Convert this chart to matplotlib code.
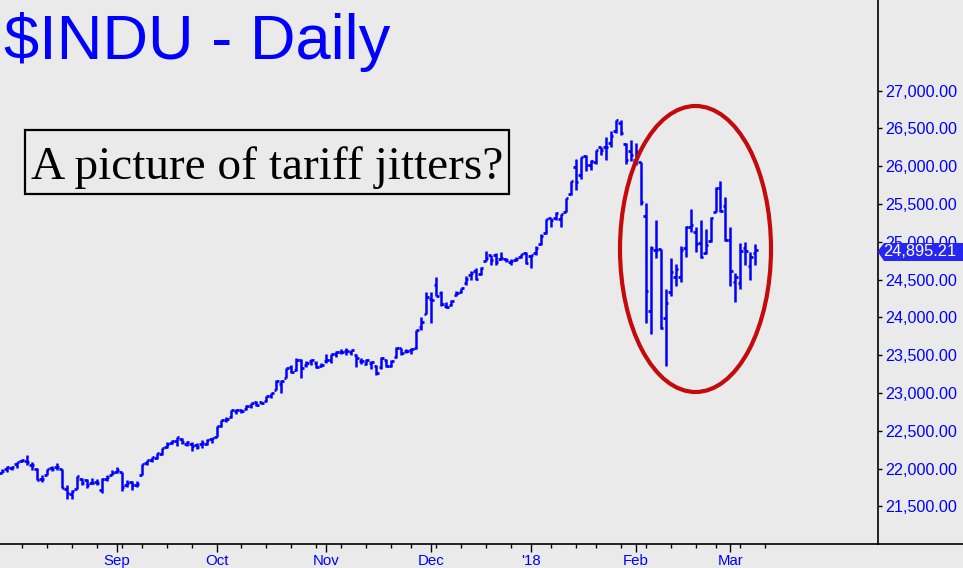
import numpy as np
import pandas as pd
import matplotlib
matplotlib.use("Agg")
import matplotlib.pyplot as plt
from matplotlib.patches import Ellipse, Polygon, Rectangle
from matplotlib.lines import Line2D

# ---------------- data ----------------
start_date = "2017-08-01"
end_date = "2018-03-08"
holidays = ["2017-09-04", "2017-11-23", "2017-12-25", "2018-01-01", "2018-01-15", "2018-02-19"]

opens = [
    # Aug
    21939, 21990, 22008, 22058, 22100, 22100, 22050, 22000, 21860, 21910, 22010, 22020, 21990, 21730, 21670, 21730, 21860, 21850, 21810, 21830, 21720, 21860, 21920,
    # Sep
    21961, 21962, 21780, 21820, 21780, 21920, 22080, 22110, 22140, 22200, 22290, 22340, 22370, 22390, 22330, 22320, 22310, 22320, 22330, 22390,
    # Oct
    22423, 22570, 22640, 22680, 22760, 22780, 22790, 22830, 22880, 22880, 22890, 22960, 23040, 23120, 23200, 23340, 23300, 23440, 23370, 23420, 23400, 23360,
    # Nov
    23420, 23440, 23520, 23540, 23560, 23540, 23500, 23430, 23390, 23400, 23360, 23340, 23440, 23360, 23480, 23590, 23550, 23570, 23600, 23870, 24050,
    # Dec
    24240, 24425, 24320, 24150, 24160, 24300, 24340, 24450, 24560, 24620, 24580, 24740, 24820, 24820, 24770, 24770, 24730, 24760, 24800, 24850,
    # Jan
    24810, 24850, 24965, 25115, 25310, 25310, 25300, 25400, 25630, 25990, 25880, 26140, 26020, 26050, 26250, 26250, 26310, 26460, 26570, 26300, 26200,
    # Feb
    26083, 26061, 25337, 24085, 24890, 24902, 23993, 24337, 24540, 24535, 24923, 25190, 25124, 24981, 24852, 25011, 25393, 25707, 25471,
    # Mar
    25025, 24466, 24460, 24916, 24676, 24855,
]
highs = [
    21990, 22036, 22036, 22092, 22122, 22179, 22090, 22010, 21920, 22000, 22040, 22080, 22000, 21790, 21720, 21900, 21880, 21870, 21880, 21870, 21880, 21910, 21980,
    22022, 21962, 21847, 21840, 21840, 22065, 22120, 22160, 22210, 22270, 22350, 22380, 22413, 22400, 22360, 22350, 22340, 22380, 22390, 22410,
    22560, 22645, 22680, 22780, 22790, 22790, 22840, 22875, 22900, 22900, 22960, 23000, 23170, 23170, 23330, 23370, 23470, 23450, 23430, 23450, 23420, 23400,
    23510, 23520, 23550, 23580, 23600, 23570, 23510, 23460, 23450, 23420, 23370, 23480, 23450, 23440, 23610, 23600, 23580, 23600, 23840, 24000, 24330,
    24330, 24534, 24350, 24200, 24230, 24350, 24390, 24550, 24610, 24660, 24670, 24880, 24830, 24850, 24870, 24790, 24770, 24800, 24840, 24870,
    24825, 24940, 25105, 25300, 25310, 25390, 25370, 25580, 25810, 26090, 26120, 26150, 26080, 26215, 26260, 26390, 26460, 26617, 26610, 26310, 26340,
    26306, 26061, 25520, 24946, 25294, 24903, 24382, 24790, 24710, 24940, 25206, 25440, 25190, 25290, 25166, 25325, 25730, 25810, 25588,
    25190, 24590, 24990, 24996, 24860, 24968,
]
lows = [
    21939, 21950, 21985, 22012, 22085, 22054, 21980, 21844, 21830, 21910, 21970, 21980, 21750, 21600, 21600, 21730, 21780, 21750, 21800, 21780, 21680, 21840, 21910,
    21949, 21704, 21760, 21720, 21760, 21920, 22050, 22090, 22130, 22180, 22280, 22320, 22300, 22320, 22300, 22230, 22260, 22280, 22310, 22340,
    22420, 22550, 22620, 22670, 22720, 22740, 22770, 22800, 22830, 22850, 22880, 22940, 23040, 23000, 23200, 23260, 23290, 23200, 23340, 23370, 23330, 23340,
    23400, 23400, 23480, 23510, 23500, 23500, 23350, 23380, 23370, 23320, 23240, 23320, 23350, 23340, 23470, 23500, 23530, 23520, 23580, 23830, 24050,
    23922, 24280, 24150, 24120, 24150, 24280, 24320, 24430, 24490, 24500, 24560, 24740, 24700, 24700, 24760, 24730, 24690, 24740, 24790, 24710,
    24660, 24820, 24960, 25110, 25200, 25290, 25200, 25390, 25620, 25690, 25830, 25940, 25950, 26030, 26150, 26080, 26260, 26440, 26410, 26030, 26070,
    26014, 25490, 23924, 23778, 24780, 23849, 23360, 24290, 24410, 24470, 24800, 25130, 24865, 24785, 24836, 25004, 25390, 25390, 25008,
    24420, 24210, 24370, 24690, 24500, 24700,
]
closes = [
    21964, 22016, 22026, 22093, 22118, 22085, 22049, 21844, 21858, 21994, 21999, 22025, 21751, 21675, 21704, 21900, 21812, 21783, 21814, 21808, 21865, 21892, 21948,
    21988, 21753, 21808, 21785, 21798, 22057, 22119, 22158, 22203, 22268, 22331, 22371, 22413, 22359, 22350, 22296, 22284, 22341, 22381, 22405,
    22558, 22642, 22662, 22775, 22774, 22761, 22831, 22873, 22841, 22872, 22957, 22997, 23158, 23163, 23329, 23274, 23442, 23329, 23401, 23434, 23349, 23377,
    23435, 23516, 23539, 23548, 23557, 23563, 23462, 23422, 23440, 23409, 23271, 23458, 23358, 23430, 23591, 23526, 23558, 23581, 23837, 23941, 24272,
    24232, 24290, 24181, 24141, 24211, 24329, 24386, 24505, 24585, 24509, 24652, 24792, 24755, 24727, 24782, 24754, 24746, 24774, 24838, 24719,
    24824, 24923, 25075, 25296, 25283, 25386, 25369, 25575, 25803, 25793, 26116, 26018, 26072, 26215, 26211, 26252, 26393, 26617, 26439, 26077, 26149,
    26187, 25521, 24346, 24913, 24893, 23860, 24191, 24601, 24640, 24893, 25200, 25219, 24965, 24798, 24962, 25310, 25709, 25410, 25029,
    24609, 24538, 24875, 24884, 24801, 24895.21,
]
last_price = 24895.21
month_labels = ["Sep", "Oct", "Nov", "Dec", "'18", "Feb", "Mar"]
yticks = [21500, 22000, 22500, 23000, 23500, 24000, 24500, 25000, 25500, 26000, 26500, 27000]
title_text = "$INDU - Daily"
note_text = "A picture of tariff jitters?"

# ---------------- build dates ----------------
dates = [d for d in pd.bdate_range(start_date, end_date) if d.strftime("%Y-%m-%d") not in holidays]
n = len(dates)
assert n == len(opens) == len(highs) == len(lows) == len(closes), (n, len(opens), len(highs), len(lows), len(closes))
x = np.arange(n)

# month starts (from Sep)
month_idx = []
for i in range(1, n):
    if dates[i].month != dates[i - 1].month:
        month_idx.append(i)

# weekly ticks: first trading day of each week (extend a bit past data)
ext_dates = [d for d in pd.bdate_range(start_date, "2018-03-16") if d.strftime("%Y-%m-%d") not in holidays]
week_idx = []
for i in range(1, len(ext_dates)):
    if ext_dates[i].isocalendar()[1] != ext_dates[i - 1].isocalendar()[1]:
        week_idx.append(i)
week_idx = [w for w in week_idx if w not in month_idx]

# ---------------- figure ----------------
BG = "#EAEAEA"
BLUE = "#0000FF"
W, H = 963, 568
fig = plt.figure(figsize=(W / 100, H / 100), dpi=100, facecolor=BG)
ax_left, ax_right, ax_bottom = 0, 878.3, 544
ax = fig.add_axes([ax_left / W, (H - ax_bottom) / H, (ax_right - ax_left) / W, ax_bottom / H])
ax.set_facecolor(BG)

sep_idx = month_idx[0]
px_per_day = 4.99
x0 = sep_idx - 116.7 / px_per_day
ax.set_xlim(x0, x0 + ax_right / px_per_day)
ax.set_ylim(21004, 28198)

ax.vlines(x, lows, highs, color=BLUE, lw=1.8)
ax.hlines(opens, x - 0.5, x, color=BLUE, lw=2.0)
ax.hlines(closes, x, x + 0.5, color=BLUE, lw=2.0)

for s in ["left", "top"]:
    ax.spines[s].set_visible(False)
for s in ["right", "bottom"]:
    ax.spines[s].set_color("black")
    ax.spines[s].set_linewidth(1.2)

ax.yaxis.tick_right()
ax.set_yticks(yticks)
ax.set_yticklabels([f"{v:,.2f}" for v in yticks], fontsize=11.6, color=BLUE, family="Liberation Sans")
ax.tick_params(axis="y", direction="out", length=3, width=1, colors="black", labelcolor=BLUE, pad=2)

ax.set_xticks(month_idx)
ax.set_xticklabels(month_labels, fontsize=10.8, color=BLUE, family="Liberation Sans")
ax.set_xticks(week_idx, minor=True)
ax.tick_params(axis="x", which="major", direction="out", length=6, width=1, colors="black", labelcolor=BLUE, pad=1)
ax.tick_params(axis="x", which="minor", direction="out", length=3, width=1, colors="black")

# extend bottom axis line across full width
fig.add_artist(Line2D([ax_right / W, 1], [(H - ax_bottom) / H] * 2, color="black", lw=1.2, transform=fig.transFigure))

# title
fig.text(4 / W, (H - 59) / H, title_text, fontsize=45.5, color=BLUE, family="Liberation Sans",
         ha="left", va="baseline", parse_math=False)

# boxed note
fig.add_artist(Rectangle((25 / W, (H - 194) / H), (509 - 25) / W, (194 - 130) / H,
                         transform=fig.transFigure, fill=False, edgecolor="black", lw=1.6))
fig.text(31 / W, (H - 179) / H, note_text, fontsize=34, color="black", family="Liberation Serif",
         ha="left", va="baseline")

# red ellipse
fig.add_artist(Ellipse((695.5 / W, (H - 249) / H), 151 / W, 286 / H, transform=fig.transFigure,
                       fill=False, edgecolor="#C40A0A", lw=3.0, zorder=5))

# last price tag
ytag = (H - 251.5) / H
tag = Polygon([(877.5 / W, ytag), (884 / W, (H - 243) / H), (963 / W, (H - 243) / H),
               (963 / W, (H - 261) / H), (884 / W, (H - 261) / H)], closed=True,
              transform=fig.transFigure, facecolor="#2626F2", edgecolor="none", zorder=6)
fig.add_artist(tag)
fig.text(920 / W, ytag, f"{last_price:,.2f}", fontsize=11.8, color="white", family="Liberation Sans",
         ha="center", va="center", zorder=7)

fig.savefig("out.png", dpi=100, facecolor=BG)
